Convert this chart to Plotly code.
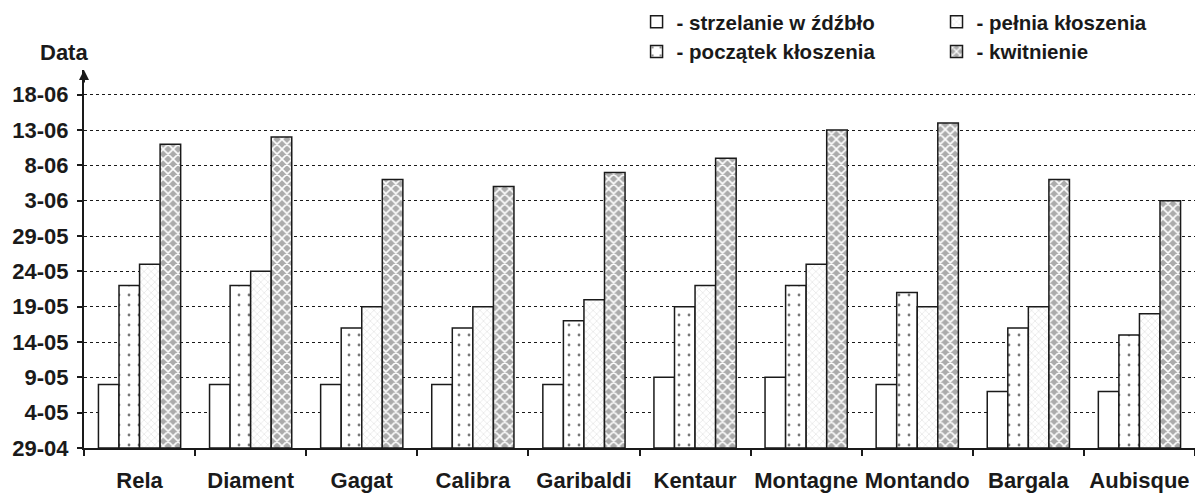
import plotly.graph_objects as go

# Varieties
categories = ["Rela", "Diament", "Gagat", "Calibra", "Garibaldi",
              "Kentaur", "Montagne", "Montando", "Bargala", "Aubisque"]

# Values: days after 29-04
strzelanie = [9, 9, 9, 9, 9, 10, 10, 9, 8, 8]
poczatek = [23, 23, 17, 17, 18, 20, 23, 22, 17, 16]
pelnia = [26, 25, 20, 20, 21, 23, 26, 20, 20, 19]
kwitnienie = [43, 44, 38, 37, 39, 41, 45, 46, 38, 35]

series_names = ["- strzelanie w źdźbło", "- początek kłoszenia",
                "- pełnia kłoszenia", "- kwitnienie"]

tick_vals = [0, 5, 10, 15, 20, 25, 30, 35, 40, 45, 50]
tick_text = ["29-04", "4-05", "9-05", "14-05", "19-05", "24-05",
             "29-05", "3-06", "8-06", "13-06", "18-06"]

FONT = "Liberation Sans, Arial, sans-serif"
INK = "#1a1a1a"

patterns = [
    dict(shape=""),
    dict(shape=".", fgcolor="#777777", bgcolor="white", size=10, solidity=0.06),
    dict(shape="x", fgcolor="#d0d0d0", bgcolor="white", size=5, solidity=0.15),
    dict(shape="x", fgcolor="white", bgcolor="#ababab", size=7, solidity=0.4),
]
legend_ids = ["legend", "legend", "legend2", "legend2"]

fig = go.Figure()
for name, vals, pat, lg in zip(series_names,
                               [strzelanie, poczatek, pelnia, kwitnienie],
                               patterns, legend_ids):
    fig.add_trace(go.Bar(
        x=categories, y=vals, name=name, legend=lg,
        marker=dict(color="white", line=dict(color=INK, width=1.5),
                    pattern=pat),
    ))

legend_common = dict(orientation="v", xref="container", yref="paper",
                     xanchor="left", yanchor="top", y=1.18,
                     font=dict(size=20.5, weight="bold", color=INK),
                     traceorder="normal", tracegroupgap=0,
                     bgcolor="rgba(0,0,0,0)", itemwidth=30)

fig.update_layout(
    template="none",
    width=1195, height=485,
    margin=dict(l=76, r=8, t=62, b=45, autoexpand=False),
    paper_bgcolor="white", plot_bgcolor="white",
    barmode="group", bargap=0.26, bargroupgap=0,
    font=dict(family=FONT, size=20, color=INK, weight="bold"),
    legend=dict(x=0.526, **legend_common),
    legend2=dict(x=0.777, **legend_common),
    showlegend=True,
)

fig.update_xaxes(
    type="category", showline=True, linecolor=INK, linewidth=2,
    ticks="outside", tickson="boundaries", ticklen=6, tickwidth=1.5,
    tickcolor=INK, showgrid=False, automargin=False, tickangle=0,
    ticklabelstandoff=12,
    tickfont=dict(size=22, weight="bold", color=INK),
)
fig.update_yaxes(
    range=[0, 53.5], tickvals=tick_vals, ticktext=tick_text,
    showline=True, linecolor=INK, linewidth=2,
    ticks="outside", ticklen=5, tickwidth=1.5, tickcolor=INK,
    showgrid=True, gridcolor=INK, griddash="dot", gridwidth=1,
    zeroline=False, automargin=False, ticklabelstandoff=4,
    tickfont=dict(size=22, weight="bold", color=INK),
)

fig.add_annotation(x=0, y=1, xref="paper", yref="paper", ax=0, ay=14,
                   showarrow=True, arrowhead=2, arrowsize=1, arrowwidth=2,
                   arrowcolor=INK, text="")
fig.add_annotation(x=0, y=1, xref="paper", yref="paper", xanchor="right",
                   yanchor="bottom", yshift=3, xshift=6, showarrow=False,
                   text="Data", font=dict(size=22, weight="bold", color=INK))

fig.write_html("out.html")
